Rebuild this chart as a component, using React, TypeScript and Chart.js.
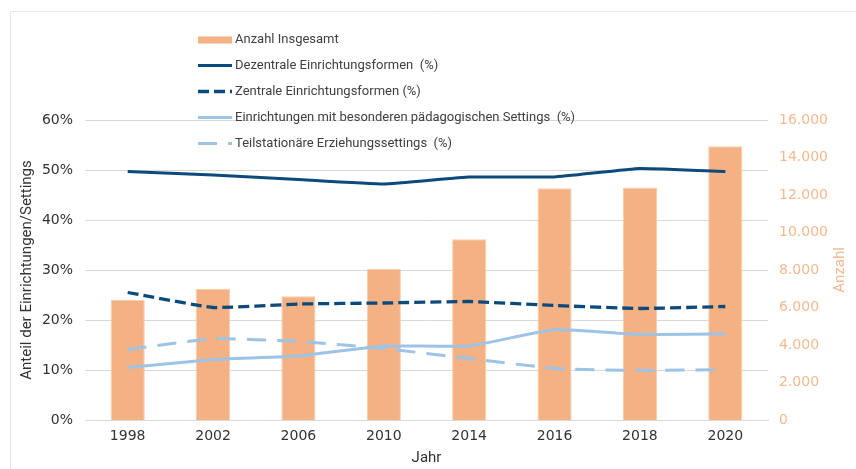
import React, { useEffect, useRef } from "react";
import { Chart, registerables } from "chart.js";

Chart.register(...registerables);

const years = ["1998", "2002", "2006", "2010", "2014", "2016", "2018", "2020"];
const anzahlInsgesamt = [6400, 7000, 6600, 8050, 9640, 12360, 12400, 14600];
const dezentrale = [49.7, 49.0, 48.1, 47.2, 48.6, 48.6, 50.3, 49.7];
const zentrale = [25.5, 22.5, 23.2, 23.4, 23.7, 22.9, 22.3, 22.7];
const besondere = [10.5, 12.1, 12.8, 14.8, 14.8, 18.1, 17.1, 17.2];
const teilstationaer = [14.1, 16.3, 15.7, 14.3, 12.3, 10.3, 9.9, 10.1];

const seriesNames = [
  "Anzahl Insgesamt",
  "Dezentrale Einrichtungsformen  (%)",
  "Zentrale Einrichtungsformen (%)",
  "Einrichtungen mit besonderen pädagogischen Settings  (%)",
  "Teilstationäre Erziehungssettings  (%)",
];
const leftAxisTitle = "Anteil der Einrichtungen/Settings";
const rightAxisTitle = "Anzahl";
const xAxisTitle = "Jahr";

const ORANGE = "#F4B183";
const ORANGE_EDGE = "#F8CDAE";
const ORANGE_TEXT = "#F5B98F";
const DARK_BLUE = "#0C4A7C";
const LIGHT_BLUE = "#9DC3E6";
const GRID = "#D9D9D9";
const TEXT = "#333333";
const LEGEND_TEXT = "#404040";
const TICK_FONT = "'DejaVu Sans', sans-serif";
const TEXT_FONT = "Roboto, 'Liberation Sans', sans-serif";

function formatThousands(v: number): string {
  return String(Math.round(v)).replace(/\B(?=(\d{3})+(?!\d))/g, ".");
}

const framePlugin = {
  id: "frame",
  beforeDraw(chart: any) {
    const ctx = chart.ctx;
    ctx.save();
    ctx.strokeStyle = "#E6E6E6";
    ctx.lineWidth = 1;
    ctx.beginPath();
    ctx.moveTo(10.5, chart.height);
    ctx.lineTo(10.5, 11.5);
    ctx.lineTo(chart.width, 11.5);
    ctx.stroke();
    ctx.restore();
  },
};

const customLegendPlugin = {
  id: "customLegend",
  afterDraw(chart: any) {
    const ctx = chart.ctx;
    const x0 = 198;
    const x1 = 232;
    const tx = 235;
    const y0 = 39.5;
    const dy = 26;
    ctx.save();
    ctx.font = `13px ${TEXT_FONT}`;
    ctx.textBaseline = "middle";
    ctx.textAlign = "left";
    chart.data.datasets.forEach((ds: any, i: number) => {
      const y = y0 + i * dy;
      if (ds.type === "bar") {
        ctx.fillStyle = ds.backgroundColor;
        ctx.fillRect(x0, y - 3, x1 - x0, 7);
      } else {
        ctx.strokeStyle = ds.borderColor;
        ctx.lineWidth = ds.borderWidth;
        ctx.setLineDash(ds.borderDash || []);
        ctx.beginPath();
        ctx.moveTo(x0, y);
        ctx.lineTo(x1, y);
        ctx.stroke();
        ctx.setLineDash([]);
      }
      ctx.fillStyle = LEGEND_TEXT;
      ctx.fillText(ds.label, tx, y);
    });
    // right axis title, reading bottom to top
    const area = chart.chartArea;
    ctx.save();
    ctx.translate(840, (area.top + area.bottom) / 2);
    ctx.rotate(-Math.PI / 2);
    ctx.textAlign = "center";
    ctx.textBaseline = "middle";
    ctx.font = `15px ${TEXT_FONT}`;
    ctx.fillStyle = ORANGE_TEXT;
    ctx.fillText(rightAxisTitle, 0, 0);
    ctx.restore();
    ctx.restore();
  },
};

export default function App() {
  const canvasRef = useRef<HTMLCanvasElement | null>(null);

  useEffect(() => {
    if (!canvasRef.current) return;
    const lineBase = {
      type: "line" as const,
      yAxisID: "y",
      pointRadius: 0,
      pointHoverRadius: 0,
      borderWidth: 3,
      tension: 0.1,
      fill: false,
      order: 1,
    };
    const chart = new Chart(canvasRef.current, {
      type: "bar",
      data: {
        labels: years,
        datasets: [
          {
            type: "bar",
            label: seriesNames[0],
            data: anzahlInsgesamt,
            backgroundColor: ORANGE,
            borderColor: ORANGE_EDGE,
            borderWidth: 1,
            yAxisID: "y1",
            order: 2,
            barPercentage: 0.5,
            categoryPercentage: 0.8,
          },
          {
            ...lineBase,
            label: seriesNames[1],
            data: dezentrale,
            borderColor: DARK_BLUE,
            backgroundColor: DARK_BLUE,
          },
          {
            ...lineBase,
            label: seriesNames[2],
            data: zentrale,
            borderColor: DARK_BLUE,
            backgroundColor: DARK_BLUE,
            borderWidth: 3.3,
            borderDash: [11, 5],
          },
          {
            ...lineBase,
            label: seriesNames[3],
            data: besondere,
            borderColor: LIGHT_BLUE,
            backgroundColor: LIGHT_BLUE,
          },
          {
            ...lineBase,
            label: seriesNames[4],
            data: teilstationaer,
            borderColor: LIGHT_BLUE,
            backgroundColor: LIGHT_BLUE,
            borderDash: [19, 11],
          },
        ] as any,
      },
      options: {
        responsive: false,
        animation: false,
        layout: { padding: { top: 120, left: 10, right: 0, bottom: 0 } },
        plugins: {
          legend: { display: false },
          tooltip: { enabled: false },
        },
        scales: {
          x: {
            offset: true,
            grid: { display: false, drawTicks: false },
            border: { display: true, color: GRID },
            ticks: {
              color: TEXT,
              font: { family: TICK_FONT, size: 14 },
              padding: 8,
              maxRotation: 0,
            },
            title: {
              display: true,
              text: xAxisTitle,
              color: TEXT,
              font: { family: TEXT_FONT, size: 15 },
              padding: { top: 0, bottom: 2 },
            },
            afterFit(scale: any) {
              scale.height = 49;
            },
          },
          y: {
            position: "left",
            min: 0,
            max: 60,
            grid: { color: GRID, drawTicks: false },
            border: { display: false },
            ticks: {
              stepSize: 10,
              color: TEXT,
              font: { family: TICK_FONT, size: 14 },
              padding: 12,
              callback: (v: any) => `${v}%`,
            },
            title: {
              display: true,
              text: leftAxisTitle,
              color: TEXT,
              font: { family: TEXT_FONT, size: 15 },
              padding: { top: 8, bottom: 0 },
            },
            afterFit(scale: any) {
              scale.width = 75;
            },
          },
          y1: {
            position: "right",
            min: 0,
            max: 16000,
            grid: { display: false, drawTicks: false },
            border: { display: false },
            ticks: {
              stepSize: 2000,
              color: ORANGE_TEXT,
              font: { family: TICK_FONT, size: 14 },
              padding: 11,
              callback: (v: any) => formatThousands(Number(v)),
            },
            afterFit(scale: any) {
              scale.width = 88;
            },
          },
        },
      } as any,
      plugins: [framePlugin, customLegendPlugin],
    });
    return () => chart.destroy();
  }, []);

  return (
    <div style={{ position: "fixed", left: 0, top: 0, width: 856, height: 469, background: "#fff" }}>
      <canvas ref={canvasRef} width={856} height={469} style={{ display: "block" }} />
    </div>
  );
}
